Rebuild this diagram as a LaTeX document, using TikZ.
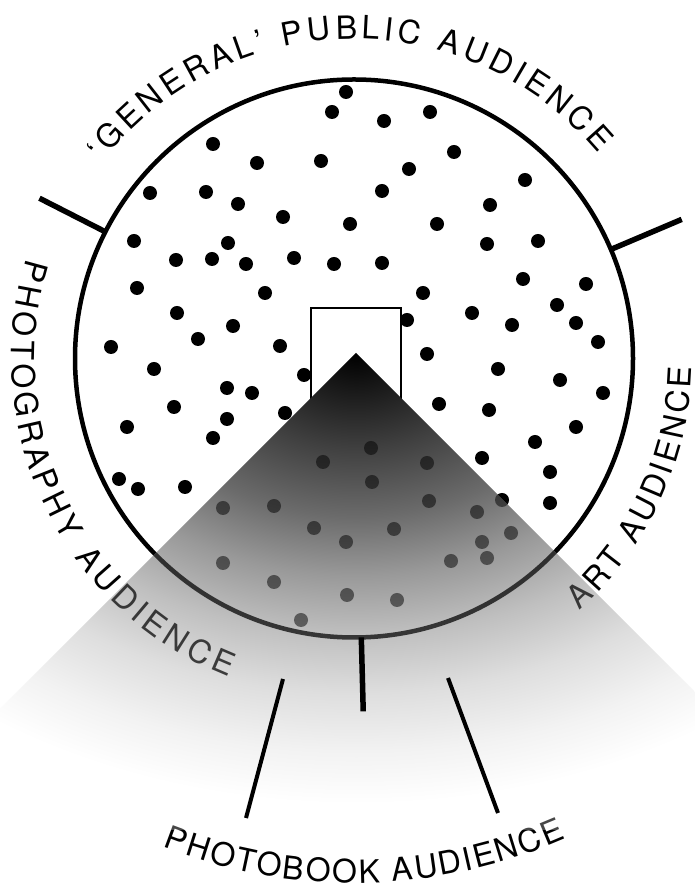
\documentclass[tikz,border=0pt]{standalone}
\usepackage{fontspec}
\setmainfont{TeX Gyre Heros}
\usetikzlibrary{decorations.text}

% grey cone round its apex (25bp = edge of the shaded box)
\pgfdeclareradialshading{beamshade}{\pgfpoint{0bp}{0bp}}{color(0bp)=(black);
	color(4.85bp)=(black!75); color(8.35bp)=(black!58); color(11.35bp)=(black!40);
	color(14.35bp)=(black!25); color(17.35bp)=(black!13); color(20.35bp)=(black!5);
	color(23bp)=(white); color(50bp)=(white)}

% audience dots (sketch pixel coordinates, y downwards)
\newcommand{\audiencedots}{%
	\begin{scope}[shift={(0,886)}, yscale=-1]
		\foreach \x/\y in {346/92, 332/112, 384/121, 430/112, 213/144, 257/163,
			321/161, 454/152, 409/169, 150/193, 206/192, 238/204, 382/191, 525/180,
			490/205, 283/217, 350/224, 437/224, 134/241, 228/243, 487/244, 538/241,
			176/260, 212/259, 246/264, 294/258, 334/264, 382/263, 137/288, 265/293,
			423/293, 523/279, 586/284, 557/305, 177/313, 233/326, 407/320, 472/313,
			512/325, 576/323, 111/347, 198/339, 280/346, 598/342, 154/369, 304/375,
			427/354, 498/369, 560/380, 227/388, 252/393, 603/393, 174/407, 227/419,
			285/413, 439/404, 489/410, 127/427, 213/438, 576/427, 535/442, 482/458,
			550/472, 119/479, 138/489, 185/487, 502/500, 550/503,
			371/448, 323/462, 427/463, 372/482, 223/508, 274/506, 429/501, 477/512,
			314/528, 394/529, 346/542, 482/542, 511/533, 487/558, 451/561, 223/563,
			274/582, 347/595, 397/600, 301/620}
		\fill (\x,\y) circle (7);
	\end{scope}}

% ring and its labels
\newcommand{\ringink}{%
	\draw[ring] (C) circle (279);
	\path[lbl={‘GENERAL’ PUBLIC AUDIENCE}]
		([shift={(142:319.5)}]C) arc[start angle=142, end angle=40, radius=319.5];
	\path[lbl={PHOTOGRAPHY AUDIENCE}]
		([shift={(163:342.5)}]C) arc[start angle=163, end angle=248.5, radius=342.5];
	\path[lbl={ART AUDIENCE}]
		([shift={(-48.2:338)}]C) arc[start angle=-48.2, end angle=-1.5, radius=338];
	\path[lbl={PHOTOBOOK AUDIENCE}]
		([shift={(248.6:524.5)}]C) arc[start angle=248.6, end angle=293.8, radius=524.5];}

\begin{document}
\begin{tikzpicture}[
	x=1pt, y=1pt,
	ring/.style={draw, line width=4.5pt},
	spoke/.style={line width=5.5pt},
	bracket/.style={line width=4pt},
	lbl/.style={decorate, decoration={text along path,
		text align={fit to path},
		text={|\fontsize{32}{36}\selectfont|#1}}},
	]
	
	\useasboundingbox[fill=white] (0,0) rectangle (694,886);
	
	\coordinate (C)      at (354,527.5);
	\coordinate (apex)   at (356,533);
	\coordinate (bookL1) at (283,207);
	\coordinate (bookL2) at (246,68);
	\coordinate (bookR1) at (448,208);
	\coordinate (bookR2) at (498,73);
	
	\audiencedots
	
	% the book
	\draw[fill=white, line width=2pt] (311,481) rectangle (401,578);
	
	\ringink
	
	% beam, then what lies under it seen through it
	\begin{scope}
		\clip (apex) -- ++(-477,-477) -- ++(954,0) -- cycle;
		\shade[shading=beamshade] ([shift={(-680,-490)}]apex) rectangle ([shift={(680,490)}]apex);
		\begin{scope}[opacity=0.5]
			\audiencedots
		\end{scope}
		\begin{scope}[opacity=0.72]
			\ringink
		\end{scope}
	\end{scope}
	
	% spokes between the audiences
	\draw[spoke] ([shift={(153:279)}]C) -- ([shift={(153:353)}]C);
	\draw[spoke] ([shift={(23:279)}]C) -- ([shift={(23:356)}]C);
	\draw[spoke] ([shift={(-88.5:279)}]C) -- ([shift={(-88.5:353)}]C);
	
	% photobook brackets
	\draw[bracket] (bookL1) -- (bookL2);
	\draw[bracket] (bookR1) -- (bookR2);
	
\end{tikzpicture}
\end{document}
